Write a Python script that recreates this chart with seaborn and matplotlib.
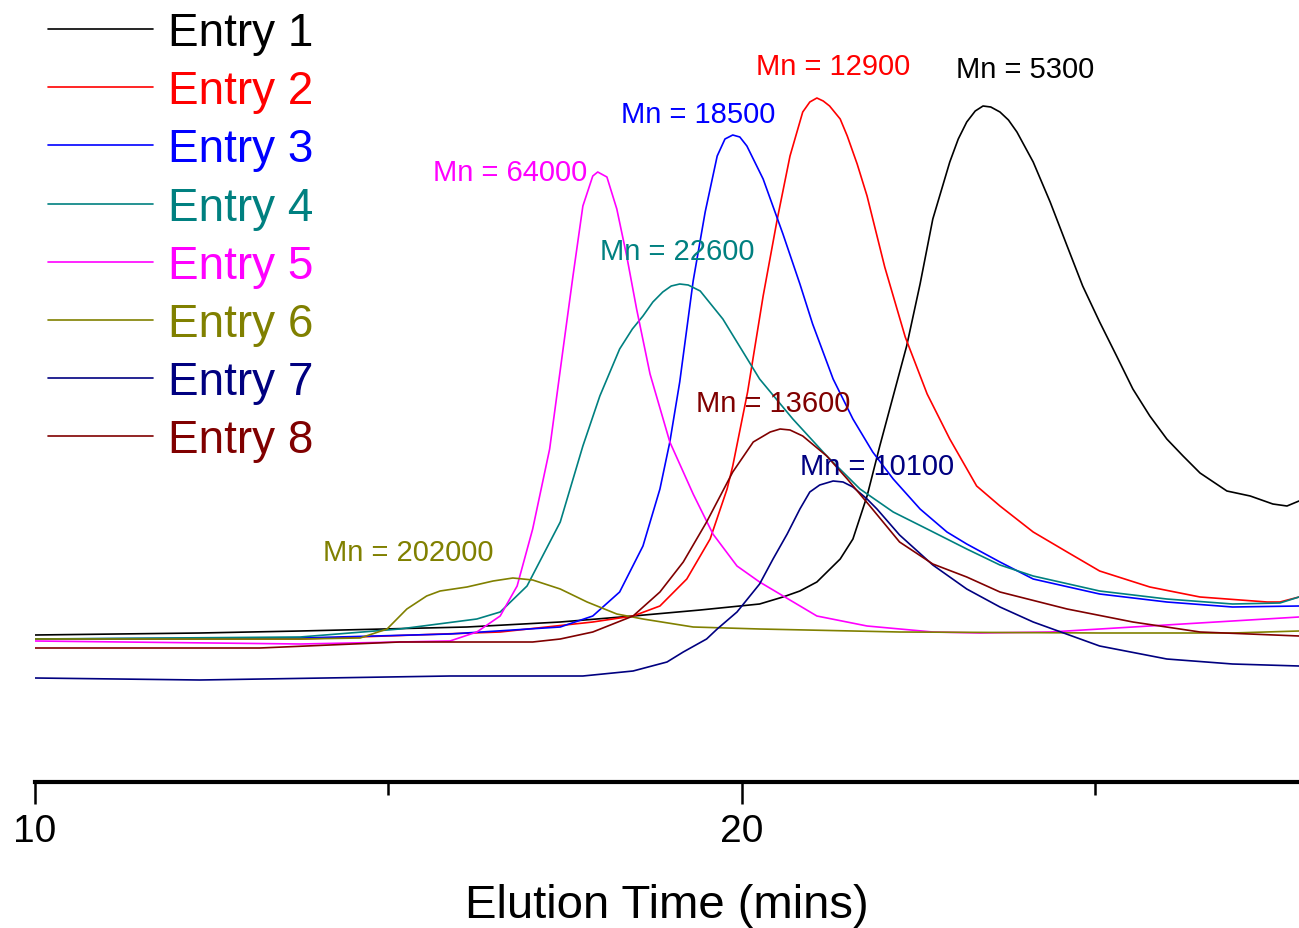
import numpy as np
import pandas as pd
import matplotlib
matplotlib.use("Agg")
import matplotlib.pyplot as plt
import seaborn as sns
from matplotlib.ticker import FixedLocator

# ---------------- data (elution time in min, detector signal in a.u.) ----------------
entries = ["Entry 1", "Entry 2", "Entry 3", "Entry 4", "Entry 5", "Entry 6", "Entry 7", "Entry 8"]
colors = ["#000000", "#FF0000", "#0000FF", "#008080", "#FF00FF", "#808000", "#000080", "#800000"]

t1 = [10.0, 12.33, 13.75, 16.11, 17.43, 18.46, 19.41, 20.25, 20.58, 20.82, 21.06, 21.39, 21.57, 21.77,
      21.95, 22.14, 22.33, 22.52, 22.70, 22.94, 23.06, 23.18, 23.30, 23.41, 23.52, 23.65, 23.77, 23.89,
      24.12, 24.36, 24.60, 24.82, 25.06, 25.30, 25.53, 25.77, 26.01, 26.24, 26.48, 26.86, 27.19, 27.51,
      27.71, 27.88]
s1 = [14.7, 14.9, 15.1, 15.5, 16.0, 16.6, 17.2, 17.8, 18.5, 19.1, 20.0, 22.3, 24.3, 28.6,
      33.6, 38.6, 43.6, 49.8, 56.3, 62.0, 64.3, 66.0, 67.1, 67.6, 67.5, 67.0, 66.2, 65.0,
      62.0, 58.0, 53.6, 49.6, 46.0, 42.6, 39.3, 36.6, 34.3, 32.6, 30.9, 29.1, 28.6, 27.8,
      27.6, 28.1]

t2 = [10.0, 13.75, 16.58, 17.89, 18.46, 18.84, 19.22, 19.55, 19.79, 19.87, 20.08, 20.30, 20.50, 20.68,
      20.86, 20.96, 21.06, 21.15, 21.24, 21.39, 21.49, 21.63, 21.77, 22.02, 22.31, 22.62, 22.94, 23.32,
      23.65, 24.12, 24.60, 25.06, 25.77, 26.48, 27.43, 27.61, 27.88]
s2 = [14.3, 14.3, 15.0, 16.0, 16.6, 17.6, 20.3, 24.3, 29.3, 31.6, 39.0, 48.6, 56.3, 62.6,
      67.0, 68.0, 68.4, 68.1, 67.6, 66.3, 64.6, 61.8, 58.6, 51.5, 44.5, 38.8, 34.3, 29.6,
      27.6, 25.0, 23.0, 21.1, 19.5, 18.5, 18.0, 18.0, 18.5]

t3 = [10.0, 13.75, 15.87, 17.43, 17.89, 18.27, 18.60, 18.84, 18.98, 19.12, 19.31, 19.48, 19.65, 19.76,
      19.87, 19.97, 20.07, 20.30, 20.58, 20.82, 21.00, 21.29, 21.57, 21.85, 22.14, 22.52, 22.90, 23.18,
      23.65, 24.12, 25.06, 26.01, 26.94, 27.88]
s3 = [14.3, 14.4, 14.8, 15.5, 16.6, 19.0, 23.6, 29.3, 34.0, 40.0, 50.1, 57.0, 62.6, 64.3,
      64.7, 64.5, 63.6, 60.3, 54.8, 49.8, 45.8, 40.3, 36.3, 33.0, 30.3, 27.3, 25.0, 23.8,
      22.0, 20.3, 18.8, 18.0, 17.5, 17.6]

t4 = [10.0, 13.75, 15.16, 16.25, 16.58, 16.96, 17.43, 17.75, 17.99, 18.27, 18.45, 18.60, 18.74, 18.88,
      19.00, 19.12, 19.24, 19.41, 19.73, 20.25, 20.72, 21.20, 21.67, 22.14, 22.62, 23.18, 23.65, 24.12,
      25.06, 26.01, 26.94, 27.61, 27.88]
s4 = [14.3, 14.5, 15.3, 16.3, 17.0, 19.6, 26.0, 33.6, 38.6, 43.3, 45.3, 46.6, 48.0, 49.0,
      49.6, 49.8, 49.7, 49.1, 46.3, 40.3, 36.3, 32.6, 29.3, 27.0, 25.3, 23.3, 21.7, 20.6,
      19.1, 18.3, 17.8, 17.9, 18.5]

t5 = [10.0, 13.75, 15.87, 16.25, 16.58, 16.82, 17.04, 17.28, 17.47, 17.61, 17.75, 17.89, 17.96, 18.09,
      18.23, 18.37, 18.51, 18.70, 18.98, 19.31, 19.59, 19.93, 20.25, 21.06, 21.77, 22.70, 23.37, 24.36,
      25.53, 26.94, 27.88]
s5 = [14.1, 13.8, 14.1, 15.0, 16.6, 19.6, 25.3, 33.3, 43.3, 50.6, 57.6, 60.6, 61.0, 60.5,
      57.3, 52.6, 47.3, 40.8, 34.0, 28.8, 24.8, 21.6, 20.0, 16.6, 15.6, 15.0, 14.9, 15.0,
      15.5, 16.1, 16.5]

t6 = [10.0, 13.75, 14.60, 14.98, 15.26, 15.54, 15.73, 16.11, 16.48, 16.76, 17.04, 17.43, 17.81, 18.23,
      18.60, 19.31, 20.25, 22.23, 25.06, 26.94, 27.88]
s6 = [14.3, 14.3, 14.4, 15.3, 17.3, 18.6, 19.1, 19.5, 20.1, 20.4, 20.2, 19.3, 18.0, 16.8,
      16.3, 15.5, 15.3, 15.0, 14.9, 14.9, 15.1]

t7 = [10.0, 12.33, 15.87, 17.75, 18.46, 18.94, 19.17, 19.50, 19.65, 19.93, 20.25, 20.44, 20.64, 20.82,
      20.96, 21.10, 21.29, 21.43, 21.57, 21.77, 21.91, 22.23, 22.70, 23.18, 23.65, 24.12, 25.06, 26.01,
      26.94, 27.88]
s7 = [10.4, 10.2, 10.6, 10.6, 11.1, 12.0, 13.0, 14.3, 15.3, 17.0, 19.8, 22.3, 24.8, 27.3,
      29.0, 29.7, 30.1, 30.0, 29.5, 28.3, 27.3, 24.7, 21.7, 19.3, 17.5, 16.0, 13.6, 12.3,
      11.8, 11.6]

t8 = [10.0, 13.18, 15.16, 17.04, 17.43, 17.89, 18.46, 18.84, 19.17, 19.50, 19.87, 20.16, 20.40, 20.54,
      20.68, 20.86, 21.20, 21.49, 21.81, 22.23, 22.70, 23.18, 23.65, 24.60, 25.53, 26.48, 27.88]
s8 = [13.4, 13.4, 14.0, 14.0, 14.3, 15.0, 16.6, 19.0, 22.0, 26.0, 31.0, 34.0, 35.0, 35.3,
      35.2, 34.6, 32.6, 30.3, 27.6, 24.0, 21.8, 20.5, 19.0, 17.3, 16.0, 15.0, 14.6]

times = [t1, t2, t3, t4, t5, t6, t7, t8]
signals = [s1, s2, s3, s4, s5, s6, s7, s8]

# annotations: text, x (min), y (signal), colour
ann_text = ["Mn = 5300", "Mn = 12900", "Mn = 18500", "Mn = 22600", "Mn = 64000",
            "Mn = 202000", "Mn = 10100", "Mn = 13600"]
ann_x = [24.00, 21.29, 19.38, 19.08, 16.72, 15.28, 21.91, 20.44]
ann_y = [71.3, 71.6, 66.8, 53.1, 61.0, 23.0, 31.6, 37.9]
ann_colors = ["#000000", "#FF0000", "#0000FF", "#008080", "#FF00FF", "#808000", "#000080", "#800000"]

# ---------------- build long-form table ----------------
frames = []
for name, t, s in zip(entries, times, signals):
    frames.append(pd.DataFrame({"time": t, "signal": s, "entry": name}))
df = pd.concat(frames, ignore_index=True)

sns.set_theme(style="white")
plt.rcParams["font.family"] = ["Liberation Sans", "DejaVu Sans"]
plt.rcParams["text.color"] = "black"
plt.rcParams["axes.labelcolor"] = "black"
plt.rcParams["xtick.color"] = "black"
plt.rcParams["lines.solid_joinstyle"] = "round"

W, H = 1299, 929
fig = plt.figure(figsize=(W / 100, H / 100), dpi=100)
ax = fig.add_axes([35 / W, 146 / H, (W - 35) / W, 783 / H])

palette = dict(zip(entries, colors))
sns.lineplot(data=df, x="time", y="signal", hue="entry", palette=palette,
             estimator=None, sort=False, linewidth=1.2, ax=ax)

ax.set_xlim(10, 27.88)
ax.set_ylim(0, 78.3)

for sp in ["left", "top", "right"]:
    ax.spines[sp].set_visible(False)
ax.spines["bottom"].set_linewidth(3)
ax.spines["bottom"].set_color("black")
ax.set_yticks([])
ax.set_ylabel("")
ax.xaxis.set_major_locator(FixedLocator([10, 20]))
ax.xaxis.set_minor_locator(FixedLocator([15, 25]))
ax.tick_params(axis="x", which="major", direction="out", length=16, width=1.8,
               labelsize=28, pad=6, color="black", labelcolor="black", bottom=True)
ax.tick_params(axis="x", which="minor", direction="out", length=9, width=1.8,
               color="black", bottom=True)
ax.set_xlabel("Elution Time (mins)", fontsize=34, labelpad=25, color="black")

for txt, x, y, c in zip(ann_text, ann_x, ann_y, ann_colors):
    ax.text(x, y, txt, color=c, fontsize=21, ha="center", va="center")

handles, labels = ax.get_legend_handles_labels()
leg = ax.legend(handles, labels, loc="upper left",
                bbox_to_anchor=(48 / W, 1 - 12 / H), bbox_transform=fig.transFigure,
                frameon=False, fontsize=33, handlelength=2.29, handletextpad=0.33,
                labelspacing=0.31, borderpad=0, borderaxespad=0, labelcolor="linecolor")
for line in leg.get_lines():
    line.set_linewidth(1.2)

fig.savefig("out.png", dpi=100, facecolor="white")
